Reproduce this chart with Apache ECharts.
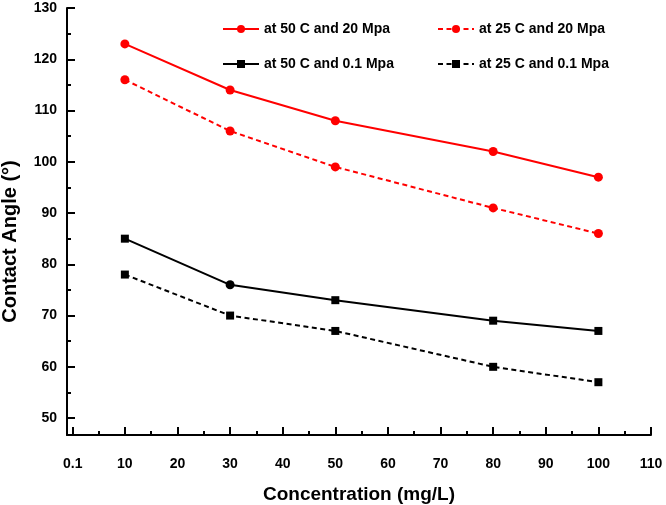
<!DOCTYPE html>
<html>
<head>
<meta charset="utf-8">
<script src="https://cdn.jsdelivr.net/npm/echarts@6/dist/echarts.min.js"></script>
<style>html,body{margin:0;padding:0;background:#fff}#c{width:666px;height:505px}</style>
</head>
<body>
<div id="c"></div>
<script>
const concentrations = [10, 30, 50, 80, 100];
const hot20 = [123, 114, 108, 102, 97];
const cold20 = [116, 106, 99, 91, 86];
const hot01 = [85, 76, 73, 69, 67];
const cold01 = [78, 70, 67, 60, 57];
const seriesNames = ['at 50 C and 20 Mpa', 'at 25 C and 20 Mpa', 'at 50 C and 0.1 Mpa', 'at 25 C and 0.1 Mpa'];
const xMajorTicks = [0.1, 10, 20, 30, 40, 50, 60, 70, 80, 90, 100, 110];
const xMinorTicks = [5, 15, 25, 35, 45, 55, 65, 75, 85, 95, 105];
const yMajorTicks = [50, 60, 70, 80, 90, 100, 110, 120, 130];
const yMinorTicks = [55, 65, 75, 85, 95, 105, 115, 125];

const FONT = 'Liberation Sans, Arial, sans-serif';
const pairs = vals => concentrations.map((x, i) => [x, vals[i]]);

function mkSeries(name, vals, color, dashed, symbol) {
  return {
    name, type: 'line', data: pairs(vals),
    symbol, symbolSize: symbol === 'circle' ? 9 : 8,
    itemStyle: { color },
    lineStyle: { color, width: 2, type: dashed ? [5, 3.5] : 'solid' },
    z: 3, animation: false
  };
}
const s3 = mkSeries(seriesNames[2], hot01, '#000', false, 'rect');
s3.data[1] = { value: s3.data[1], symbol: 'circle', symbolSize: 9 };

const series = [
  mkSeries(seriesNames[0], hot20, '#ff0000', false, 'circle'),
  mkSeries(seriesNames[1], cold20, '#ff0000', true, 'circle'),
  s3,
  mkSeries(seriesNames[3], cold01, '#000', true, 'rect')
];

const legendPos = [[222, 22], [437, 22], [222, 57], [437, 57]];
const legends = seriesNames.map((n, i) => ({
  data: [n], left: legendPos[i][0], top: legendPos[i][1], padding: 0,
  itemWidth: 36, itemHeight: 10, itemGap: 0, selectedMode: false,
  textStyle: { fontFamily: FONT, fontWeight: 'bold', fontSize: 14, color: '#000' }
}));

const labelStyle = { fontFamily: FONT, fontWeight: 'bold', fontSize: 14, color: '#000' };
const xMin = -1, xMax = 110, yMin = 46.7, yMax = 130;

const option = {
  backgroundColor: '#fff',
  animation: false,
  legend: legends,
  grid: { left: 67, right: 15, top: 8, bottom: 70, containLabel: false, outerBoundsMode: 'none' },
  xAxis: [{
    type: 'value', min: xMin, max: xMax,
    name: 'Concentration (mg/L)', nameLocation: 'middle', nameGap: 50,
    nameTextStyle: { fontFamily: FONT, fontWeight: 'bold', fontSize: 19, color: '#000' },
    axisLine: { show: true, onZero: false, lineStyle: { color: '#000', width: 2 } },
    axisTick: { show: true, inside: true, length: 8, customValues: xMajorTicks, lineStyle: { color: '#000', width: 2 } },
    axisLabel: Object.assign({ margin: 22, customValues: xMajorTicks, formatter: v => String(v) }, labelStyle),
    splitLine: { show: false }
  }, {
    type: 'value', min: xMin, max: xMax, position: 'bottom', gridIndex: 0,
    axisLine: { show: false, onZero: false },
    axisTick: { show: true, inside: true, length: 4, customValues: xMinorTicks, lineStyle: { color: '#000', width: 2 } },
    axisLabel: { show: false }, splitLine: { show: false }
  }],
  yAxis: [{
    type: 'value', min: yMin, max: yMax,
    name: 'Contact Angle (°)', nameLocation: 'middle', nameGap: 47, nameRotate: 90,
    nameTextStyle: { fontFamily: FONT, fontWeight: 'bold', fontSize: 20, color: '#000', padding: [0, 40, 0, 0] },
    axisLine: { show: true, onZero: false, lineStyle: { color: '#000', width: 2 } },
    axisTick: { show: true, inside: true, length: 8, customValues: yMajorTicks, lineStyle: { color: '#000', width: 2 } },
    axisLabel: Object.assign({ margin: 10, customValues: yMajorTicks }, labelStyle),
    splitLine: { show: false }
  }, {
    type: 'value', min: yMin, max: yMax, position: 'left', gridIndex: 0,
    axisLine: { show: false, onZero: false },
    axisTick: { show: true, inside: true, length: 4, customValues: yMinorTicks, lineStyle: { color: '#000', width: 2 } },
    axisLabel: { show: false }, splitLine: { show: false }
  }],
  series
};
const chart = echarts.init(document.getElementById('c'), null, { renderer: 'canvas' });
chart.setOption(option);
</script>
</body>
</html>
